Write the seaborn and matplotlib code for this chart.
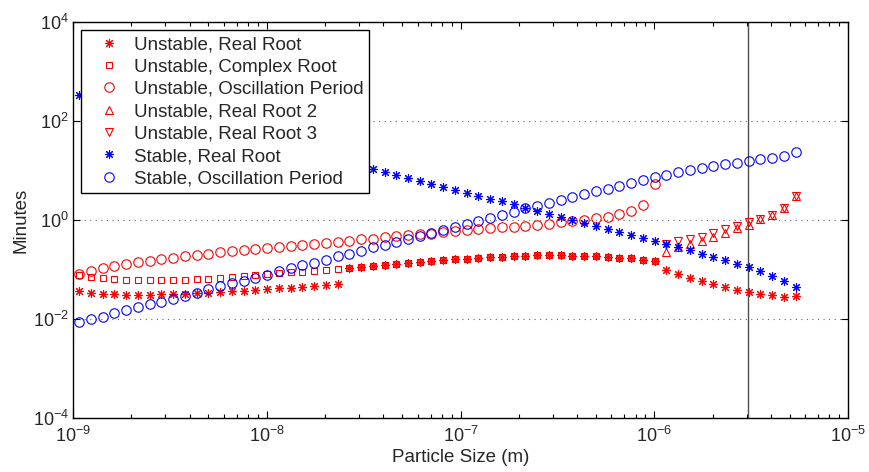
import numpy as np
import pandas as pd
import matplotlib
matplotlib.use("Agg")
import matplotlib.pyplot as plt
import seaborn as sns
from matplotlib.ticker import FixedLocator, NullLocator, LogFormatterSciNotation, NullFormatter

nan = np.nan

# particle size grid (m)
particle_size_m = [
    1.076e-9, 1.238e-9, 1.422e-9, 1.637e-9, 1.880e-9, 2.163e-9, 2.489e-9, 2.858e-9,
    3.289e-9, 3.776e-9, 4.345e-9, 5.000e-9, 5.741e-9, 6.607e-9, 7.586e-9, 8.730e-9,
    1.005e-8, 1.153e-8, 1.327e-8, 1.524e-8, 1.754e-8, 2.018e-8, 2.317e-8, 2.667e-8,
    3.062e-8, 3.524e-8, 4.055e-8, 4.656e-8, 5.358e-8, 6.152e-8, 7.079e-8, 8.147e-8,
    9.354e-8, 1.076e-7, 1.236e-7, 1.422e-7, 1.637e-7, 1.879e-7, 2.163e-7, 2.483e-7,
    2.858e-7, 3.289e-7, 3.776e-7, 4.345e-7, 4.989e-7, 5.741e-7, 6.607e-7, 7.586e-7,
    8.730e-7, 1.002e-6, 1.153e-6, 1.327e-6, 1.524e-6, 1.754e-6, 2.014e-6, 2.317e-6,
    2.667e-6, 3.062e-6, 3.524e-6, 4.046e-6, 4.656e-6, 5.358e-6,
]

# log10(minutes) for each series (nan = no point)
unstable_real_log10 = [
    -1.438, -1.471, -1.491, -1.505, -1.512, -1.512, -1.512, -1.505, -1.498, -1.485,
    -1.471, -1.465, -1.451, -1.438, -1.425, -1.411, -1.398, -1.378, -1.364, -1.344,
    -1.331, -1.311, -1.297, -0.977, -0.953, -0.930, -0.910, -0.890, -0.870, -0.850,
    -0.837, -0.816, -0.796, -0.783, -0.770, -0.750, -0.743, -0.730, -0.723, -0.716,
    -0.716, -0.716, -0.723, -0.730, -0.736, -0.750, -0.763, -0.776, -0.803, -0.837,
    -1.004, -1.097, -1.164, -1.231, -1.291, -1.345, -1.405, -1.458, -1.492, -1.525,
    -1.552, -1.532,
]
unstable_complex_log10 = [
    -1.117, -1.151, -1.178, -1.198, -1.211, -1.218, -1.218, -1.218, -1.218, -1.211,
    -1.198, -1.184, -1.171, -1.151, -1.131, -1.111, -1.091, -1.071, -1.057, -1.044,
    -1.030, -1.017, -0.997, -0.977, -0.953, -0.930, -0.910, -0.890, -0.870, -0.850,
    -0.837, -0.816, -0.796, -0.783, -0.770, -0.750, -0.743, -0.730, -0.723, -0.716,
    -0.716, -0.716, -0.723, -0.730, -0.736, -0.750, -0.763, -0.776, -0.803, -0.837,
    nan, nan, nan, nan, nan, nan, nan, nan, nan, nan, nan, nan,
]
unstable_osc_log10 = [
    -1.097, -1.030, -0.977, -0.930, -0.890, -0.857, -0.830, -0.796, -0.763, -0.730,
    -0.703, -0.683, -0.656, -0.636, -0.609, -0.582, -0.562, -0.536, -0.516, -0.495,
    -0.482, -0.462, -0.442, -0.415, -0.392, -0.375, -0.348, -0.328, -0.308, -0.288,
    -0.275, -0.248, -0.228, -0.208, -0.188, -0.168, -0.148, -0.134, -0.121, -0.101,
    -0.081, -0.050, -0.020, 0.005, 0.035, 0.066, 0.115, 0.190, 0.310, 0.730,
    nan, nan, nan, nan, nan, nan, nan, nan, nan, nan, nan, nan,
]
unstable_real2_log10 = [nan] * 50 + [
    -0.650, -0.550, -0.480, -0.415, -0.335, -0.255, -0.168, -0.094, 0.013, 0.106,
    0.240, 0.480,
]
unstable_real3_log10 = [nan] * 50 + [
    -0.480, -0.430, -0.390, -0.335, -0.255, -0.188, -0.114, -0.040, 0.013, 0.106,
    0.240, 0.480,
]
stable_real_log10 = [2.530] + [nan] * 24 + [
    1.022, 0.976, 0.915, 0.849, 0.788, 0.735, 0.675, 0.608, 0.554, 0.494,
    0.434, 0.374, 0.314, 0.240, 0.187, 0.120, 0.066, -0.001, -0.054, -0.121,
    -0.175, -0.235, -0.302, -0.360, -0.420, -0.489, -0.542, -0.602, -0.683, -0.743,
    -0.810, -0.883, -0.957, -1.030, -1.124, -1.224, -1.351,
]
stable_osc_log10 = [
    -2.067, -2.007, -1.953, -1.886, -1.826, -1.766, -1.706, -1.652, -1.592, -1.539,
    -1.472, -1.398, -1.338, -1.278, -1.224, -1.164, -1.104, -1.030, -0.970, -0.917,
    -0.870, -0.803, -0.736, -0.689, -0.622, -0.549, -0.509, -0.449, -0.381, -0.315,
    -0.268, -0.194, -0.134, -0.081, -0.014, 0.046, 0.100, 0.166, 0.233, 0.287,
    0.347, 0.401, 0.461, 0.521, 0.581, 0.634, 0.694, 0.754, 0.808, 0.862,
    0.915, 0.962, 1.002, 1.042, 1.096, 1.129, 1.156, 1.183, 1.223, 1.250,
    1.297, 1.377,
]

threshold_size_m = 3.06e-6

x_major_ticks = [1e-9, 1e-8, 1e-7, 1e-6, 1e-5]
y_major_ticks = [1e-4, 1e-2, 1e0, 1e2, 1e4]

series_labels = [
    "Unstable, Real Root",
    "Unstable, Complex Root",
    "Unstable, Oscillation Period",
    "Unstable, Real Root 2",
    "Unstable, Real Root 3",
    "Stable, Real Root",
    "Stable, Oscillation Period",
]
series_values = [
    unstable_real_log10, unstable_complex_log10, unstable_osc_log10,
    unstable_real2_log10, unstable_real3_log10, stable_real_log10, stable_osc_log10,
]
series_colors = ["#ff0000"] * 5 + ["#0000ff"] * 2
series_markers = [(8, 2, 0), "s", "o", "^", "v", (8, 2, 0), "o"]
series_msizes = [6.4, 5.0, 6.8, 6.4, 6.4, 6.4, 6.8]

sns.set_style("ticks")
plt.rcParams["font.family"] = ["Liberation Sans", "DejaVu Sans"]
plt.rcParams["mathtext.fontset"] = "custom"
plt.rcParams["mathtext.rm"] = "Liberation Sans"
plt.rcParams["mathtext.it"] = "Liberation Sans:italic"
plt.rcParams["axes.edgecolor"] = "black"
plt.rcParams["axes.linewidth"] = 1.0

fig = plt.figure(figsize=(8.69, 4.72), dpi=100)
ax = fig.add_axes([0.084, 0.1144, 0.892, 0.839])
ax.set_xscale("log")
ax.set_yscale("log")

ax.axvline(threshold_size_m, color="0.3", lw=1.0, zorder=1)

for label, logs, col, mk, ms in zip(series_labels, series_values, series_colors,
                                    series_markers, series_msizes):
    df = pd.DataFrame({"size": particle_size_m, "minutes": np.power(10.0, np.array(logs, dtype=float))})
    df = df.dropna()
    sns.lineplot(data=df, x="size", y="minutes", ax=ax, estimator=None, sort=False,
                 label=label, color=col, marker=mk, linestyle="none", markersize=ms,
                 markerfacecolor="none", markeredgecolor=col, markeredgewidth=0.8,
                 zorder=3)

ax.set_xlim(x_major_ticks[0], x_major_ticks[-1])
ax.set_ylim(y_major_ticks[0], y_major_ticks[-1])

x_minor_ticks = [m * d for d in x_major_ticks[:-1] for m in range(2, 10)]
ax.xaxis.set_major_locator(FixedLocator(x_major_ticks))
ax.xaxis.set_minor_locator(FixedLocator(x_minor_ticks))
ax.xaxis.set_major_formatter(LogFormatterSciNotation())
ax.xaxis.set_minor_formatter(NullFormatter())
ax.yaxis.set_major_locator(FixedLocator(y_major_ticks))
ax.yaxis.set_major_formatter(LogFormatterSciNotation())
ax.yaxis.set_minor_locator(NullLocator())

ax.tick_params(which="both", direction="in", top=True, right=True, color="black", width=0.8)
ax.tick_params(which="major", length=5, labelsize=13, pad=3)
ax.tick_params(which="minor", length=3)
ax.tick_params(axis="x", pad=6)

ax.grid(False)
ax.yaxis.grid(True, which="major", linestyle=(0, (1, 4)), color="0.4", linewidth=0.8)

for s in ax.spines.values():
    s.set_visible(True)
    s.set_color("black")
    s.set_linewidth(1.0)

ax.set_xlabel("Particle Size (m)", fontsize=13.5, labelpad=2)
ax.set_ylabel("Minutes", fontsize=13.5, labelpad=2)

leg = ax.legend(loc="upper left", fontsize=13.5, frameon=True, fancybox=False,
                edgecolor="black", framealpha=1.0, handlelength=2.3, handletextpad=0.2,
                labelspacing=0.28, borderpad=0.3, borderaxespad=0.45)
leg.get_frame().set_linewidth(1.0)
leg.set_zorder(10)

fig.savefig("out.png", dpi=100)
